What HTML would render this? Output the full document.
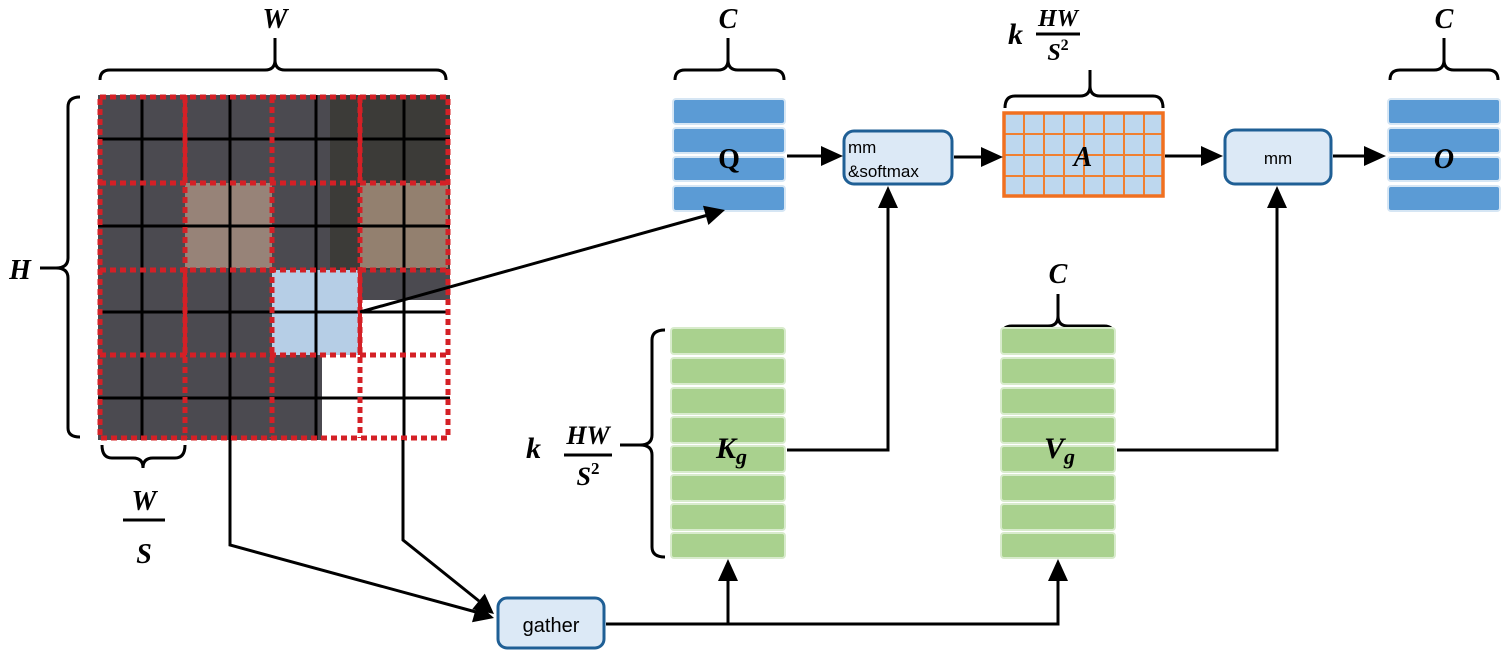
<!DOCTYPE html>
<html><head><meta charset="utf-8"><style>
html,body{margin:0;padding:0;background:#fff;}
svg{display:block;}
text{font-family:"Liberation Serif",serif;font-weight:bold;font-style:italic;}
.s{font-family:"Liberation Sans",sans-serif;font-style:normal;font-weight:normal;}
</style></head><body>
<svg width="1505" height="654" viewBox="0 0 1505 654" xmlns="http://www.w3.org/2000/svg">
<rect x="98" y="95" width="352" height="345" fill="#4b4a50"/>
<rect x="330" y="95" width="120" height="175" fill="#3c3b38"/>
<rect x="330" y="300" width="120" height="140" fill="#ffffff"/>
<rect x="322" y="355" width="128" height="85" fill="#ffffff"/>
<rect x="185" y="183" width="87" height="85" fill="#a08a7c" opacity="0.9"/>
<rect x="360" y="183" width="88" height="85" fill="#93806f"/>
<rect x="272" y="270" width="88" height="85" fill="#b6cee6"/>
<g stroke="#000" stroke-width="3">
<line x1="142" y1="95" x2="142" y2="440"/><line x1="230" y1="95" x2="230" y2="440"/>
<line x1="316" y1="95" x2="316" y2="440"/><line x1="404" y1="95" x2="404" y2="440"/>
<line x1="98" y1="139" x2="450" y2="139"/><line x1="98" y1="226" x2="450" y2="226"/>
<line x1="98" y1="312" x2="450" y2="312"/><line x1="98" y1="398" x2="450" y2="398"/>
</g>
<g stroke="#d42026" stroke-width="4">
<line x1="185" y1="95" x2="185" y2="183"/><line x1="360" y1="95" x2="360" y2="183"/>
<line x1="185" y1="270" x2="185" y2="355"/><line x1="360" y1="270" x2="360" y2="355"/>
</g>
<g stroke="#d42026" stroke-width="5" fill="none" stroke-dasharray="6,4">
<rect x="100" y="97" width="348" height="341"/>
<line x1="185" y1="97" x2="185" y2="438"/><line x1="272" y1="97" x2="272" y2="438"/><line x1="360" y1="97" x2="360" y2="438"/>
<line x1="100" y1="183" x2="448" y2="183"/><line x1="100" y1="270" x2="448" y2="270"/><line x1="100" y1="355" x2="448" y2="355"/>
</g>
<g fill="none" stroke="#000" stroke-width="3">
<path d="M100,80 Q100,70 110,70 L265,70 Q275,70 275,60 L275,38 M275,60 Q275,70 285,70 L436,70 Q446,70 446,80"/>
<path d="M80,97 Q68,97 68,107 L68,258 Q68,268 56,268 L40,268 M56,268 Q68,268 68,278 L68,428 Q68,437 80,437"/>
<path d="M102,445 Q102,458 112,458 L133,458 Q143,458 143,468 M143,468 Q143,458 153,458 L175,458 Q185,458 185,445"/>
<path d="M675,80 Q675,70 685,70 L718,70 Q728,70 728,60 L728,38 M728,60 Q728,70 738,70 L774,70 Q784,70 784,80"/>
<path d="M1390,80 Q1390,70 1400,70 L1434,70 Q1444,70 1444,60 L1444,38 M1444,60 Q1444,70 1454,70 L1488,70 Q1498,70 1498,80"/>
<path d="M1005,108 Q1005,96 1015,96 L1080,96 Q1090,96 1090,86 L1090,70 M1090,86 Q1090,96 1100,96 L1153,96 Q1163,96 1163,108"/>
<path d="M1002,336 Q1002,326 1012,326 L1048,326 Q1058,326 1058,316 L1058,294 M1058,316 Q1058,326 1068,326 L1104,326 Q1114,326 1114,336"/>
<path d="M665,330 Q652,330 652,340 L652,435 Q652,445 640,445 L620,445 M640,445 Q652,445 652,455 L652,547 Q652,557 665,557"/>
<line x1="123" y1="520" x2="165" y2="520"/>
<line x1="564" y1="455" x2="612" y2="455"/>
<line x1="1036" y1="34" x2="1080" y2="34"/>
</g>
<text x="275" y="28" font-size="28" text-anchor="middle">W</text>
<text x="20" y="279" font-size="28" text-anchor="middle">H</text>
<text x="144" y="510" font-size="28" text-anchor="middle">W</text>
<text x="144" y="563" font-size="28" text-anchor="middle">S</text>
<text x="728" y="28" font-size="28" text-anchor="middle">C</text>
<text x="1444" y="28" font-size="28" text-anchor="middle">C</text>
<text x="1058" y="283" font-size="28" text-anchor="middle">C</text>
<text x="1008" y="44" font-size="30">k</text>
<text x="1058" y="26" font-size="24" text-anchor="middle">HW</text>
<text x="1058" y="60" font-size="24" text-anchor="middle">S<tspan font-size="16" dy="-10" style="font-style:normal">2</tspan></text>
<text x="526" y="458" font-size="30">k</text>
<text x="588" y="444" font-size="26" text-anchor="middle">HW</text>
<text x="588" y="485" font-size="26" text-anchor="middle">S<tspan font-size="17" dy="-11" style="font-style:normal">2</tspan></text>
<g fill="#5b9bd5" stroke="#d6e6f4" stroke-width="2">
<rect x="673" y="99" width="112" height="25" rx="3"/><rect x="673" y="128" width="112" height="25" rx="3"/>
<rect x="673" y="157" width="112" height="24" rx="3"/><rect x="673" y="186" width="112" height="25" rx="3"/>
<rect x="1388" y="99" width="112" height="25" rx="3"/><rect x="1388" y="128" width="112" height="25" rx="3"/>
<rect x="1388" y="157" width="112" height="24" rx="3"/><rect x="1388" y="186" width="112" height="25" rx="3"/>
</g>
<text x="729" y="168" font-size="28" text-anchor="middle" style="font-style:normal">Q</text>
<text x="1444" y="168" font-size="28" text-anchor="middle">O</text>
<rect x="1004" y="113" width="159" height="83" fill="#bdd7ee"/>
<g stroke="#f08030" stroke-width="2">
<line x1="1024" y1="113" x2="1024" y2="196"/><line x1="1044" y1="113" x2="1044" y2="196"/><line x1="1064" y1="113" x2="1064" y2="196"/>
<line x1="1084" y1="113" x2="1084" y2="196"/><line x1="1104" y1="113" x2="1104" y2="196"/><line x1="1124" y1="113" x2="1124" y2="196"/><line x1="1144" y1="113" x2="1144" y2="196"/>
<line x1="1004" y1="134" x2="1163" y2="134"/><line x1="1004" y1="155" x2="1163" y2="155"/><line x1="1004" y1="176" x2="1163" y2="176"/>
</g>
<rect x="1004" y="113" width="159" height="83" fill="none" stroke="#f07020" stroke-width="3.5"/>
<text x="1083" y="166" font-size="28" text-anchor="middle">A</text>
<g fill="#dce9f6" stroke="#1f5f95" stroke-width="3">
<rect x="844" y="131" width="108" height="53" rx="10"/>
<rect x="1225" y="130" width="106" height="54" rx="10"/>
<rect x="498" y="598" width="106" height="50" rx="9"/>
</g>
<text class="s" x="848" y="153" font-size="17">mm</text>
<text class="s" x="848" y="177" font-size="17">&amp;softmax</text>
<text class="s" x="1278" y="164" font-size="17" text-anchor="middle">mm</text>
<text class="s" x="551" y="632" font-size="20" text-anchor="middle">gather</text>
<g fill="#a9d18e" stroke="#d8ebcc" stroke-width="2">
<rect x="671" y="328" width="114" height="26" rx="3"/><rect x="671" y="358" width="114" height="26" rx="3"/>
<rect x="671" y="388" width="114" height="26" rx="3"/><rect x="671" y="417" width="114" height="26" rx="3"/>
<rect x="671" y="446" width="114" height="26" rx="3"/><rect x="671" y="475" width="114" height="26" rx="3"/>
<rect x="671" y="504" width="114" height="26" rx="3"/><rect x="671" y="533" width="114" height="25" rx="3"/>
<rect x="1001" y="328" width="114" height="26" rx="3"/><rect x="1001" y="358" width="114" height="26" rx="3"/>
<rect x="1001" y="388" width="114" height="26" rx="3"/><rect x="1001" y="417" width="114" height="26" rx="3"/>
<rect x="1001" y="446" width="114" height="26" rx="3"/><rect x="1001" y="475" width="114" height="26" rx="3"/>
<rect x="1001" y="504" width="114" height="26" rx="3"/><rect x="1001" y="533" width="114" height="25" rx="3"/>
</g>
<text x="716" y="458" font-size="30">K<tspan font-size="22" dy="6">g</tspan></text>
<text x="1044" y="458" font-size="30">V<tspan font-size="22" dy="6">g</tspan></text>
<g stroke="#000" stroke-width="3" fill="none">
<line x1="360" y1="312" x2="708" y2="215"/>
<line x1="787" y1="156" x2="825" y2="156"/>
<line x1="954" y1="157" x2="985" y2="157"/>
<line x1="1165" y1="156" x2="1205" y2="156"/>
<line x1="1333" y1="156" x2="1368" y2="156"/>
<polyline points="787,450 888,450 888,205"/>
<polyline points="1117,450 1277,450 1277,205"/>
<polyline points="606,624 1058,624 1058,578"/>
<line x1="728" y1="624" x2="728" y2="578"/>
<polyline points="230,440 230,545 476,612"/>
<polyline points="403,440 403,540 479,601"/>
</g>
<g fill="#000">
<polygon points="703,205.8 725,210 708.4,225"/>
<polygon points="821,146 843,156 821,166"/>
<polygon points="981,147 1003,157 981,167"/>
<polygon points="1201,146 1223,156 1201,166"/>
<polygon points="1364,146 1386,156 1364,166"/>
<polygon points="878,208 888,186 898,208"/>
<polygon points="1267,208 1277,186 1287,208"/>
<polygon points="1048,581 1058,559 1068,581"/>
<polygon points="718,581 728,559 738,581"/>
<polygon points="477.4,603.1 494,618 472,622.3"/>
<polygon points="484.8,593.6 494,614 472.2,609.2"/>
</g>
</svg>
</body></html>
